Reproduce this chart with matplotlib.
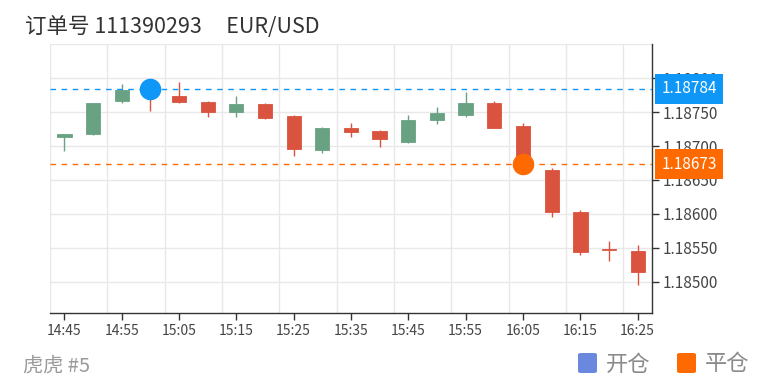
import matplotlib
matplotlib.use("Agg")
import matplotlib.pyplot as plt
from matplotlib.patches import FancyBboxPatch
from matplotlib.ticker import FormatStrFormatter

plt.rcParams['font.family'] = ['Noto Sans CJK SC', 'DejaVu Sans']

# 5分钟K线 14:45 - 16:25
times = ['14:45', '14:50', '14:55', '15:00', '15:05', '15:10', '15:15', '15:20',
         '15:25', '15:30', '15:35', '15:40', '15:45', '15:50', '15:55', '16:00',
         '16:05', '16:10', '16:15', '16:20', '16:25']
opens = [1.18714, 1.18717, 1.18766, 1.18785, 1.18774, 1.18765, 1.18750, 1.18762,
         1.18744, 1.18694, 1.18726, 1.18722, 1.18706, 1.18739, 1.18745, 1.18764,
         1.18729, 1.18664, 1.18603, 1.18548, 1.18546]
closes = [1.18718, 1.18764, 1.18783, 1.18777, 1.18765, 1.18750, 1.18762, 1.18741,
          1.18695, 1.18727, 1.18720, 1.18710, 1.18739, 1.18749, 1.18764, 1.18726,
          1.18665, 1.18603, 1.18544, 1.18547, 1.18515]
highs = [1.18718, 1.18764, 1.18791, 1.18790, 1.18795, 1.18766, 1.18773, 1.18764,
         1.18745, 1.18728, 1.18734, 1.18723, 1.18746, 1.18758, 1.18779, 1.18767,
         1.18734, 1.18668, 1.18606, 1.18560, 1.18554]
lows = [1.18692, 1.18716, 1.18764, 1.18752, 1.18763, 1.18742, 1.18743, 1.18740,
        1.18685, 1.18689, 1.18714, 1.18698, 1.18705, 1.18733, 1.18742, 1.18726,
        1.18660, 1.18595, 1.18540, 1.18530, 1.18495]

open_idx, open_price = 3, 1.18784    # 开仓
close_idx, close_price = 16, 1.18673  # 平仓

up_color = '#68a283'
down_color = '#d9533e'
blue = '#0f97f7'
orange = '#ff6a00'

fig = plt.figure(figsize=(7.75, 3.87), dpi=100)
ax = fig.add_axes([50 / 775, 1 - 313 / 387, 602 / 775, (313 - 43.5) / 387])

x = list(range(len(times)))
colors = [up_color if c >= o else down_color for o, c in zip(opens, closes)]
ax.vlines(x, lows, highs, colors=colors, linewidth=1, zorder=3)
ax.bar(x, [c - o for o, c in zip(opens, closes)], bottom=opens, width=0.5,
       color=colors, edgecolor=colors, linewidth=0.6, zorder=4)

# 开仓/平仓 价格线
ax.axhline(open_price, color=blue, linestyle=(0, (4, 4)), linewidth=1, zorder=5)
ax.axhline(close_price, color=orange, linestyle=(0, (4, 4)), linewidth=1, zorder=5)
ax.plot(open_idx, open_price, 'o', color=blue, markersize=14.5, zorder=6)
ax.plot(close_idx, close_price, 'o', color=orange, markersize=14.5, zorder=6)

ax.set_xlim(-0.5, len(times) - 0.5)
ax.set_ylim(1.18454, 1.18851)

# 网格: 纵线在类目边界, 每两个
for gx in [-0.5] + [i + 1.5 for i in range(0, len(times) - 1, 2)]:
    ax.axvline(gx, color='#e8e8e8', linewidth=1, zorder=1)
yt = [1.18500, 1.18550, 1.18600, 1.18650, 1.18700, 1.18750, 1.18800]
for gy in yt + [1.18851]:
    ax.axhline(gy, color='#e8e8e8', linewidth=1, zorder=1)

ax.set_xticks(x[::2])
ax.set_xticklabels(times[::2])
ax.set_yticks(yt)
ax.yaxis.set_major_formatter(FormatStrFormatter('%.5f'))
ax.yaxis.tick_right()
ax.tick_params(axis='x', length=5, width=1, color='#333333', labelsize=10,
               labelcolor='#444444', pad=3)
ax.tick_params(axis='y', length=5, width=1, color='#333333', labelsize=11,
               labelcolor='#444444', pad=3)

for s in ['left', 'top']:
    ax.spines[s].set_visible(False)
for s in ['right', 'bottom']:
    ax.spines[s].set_color('#333333')
    ax.spines[s].set_linewidth(1)

# 右侧价格标签 (盖住部分刻度文字, 同原图)
tr = ax.get_yaxis_transform()
for price, col in [(open_price, blue), (close_price, orange)]:
    ax.text(1.0155, price, '%.5f' % price, transform=tr, ha='left', va='center',
            color='white', fontsize=11, zorder=10, clip_on=False,
            bbox=dict(boxstyle='square,pad=0.42', facecolor=col, edgecolor='none'))

fig.text(25 / 775, 1 - 27 / 387, '订单号 111390293     EUR/USD', fontsize=15.5,
         color='#333333', va='center', ha='left')
fig.text(23 / 775, 1 - 366 / 387, '虎虎 #5', fontsize=14.5, color='#9a9a9a',
         va='center', ha='left')

# 图例
legend_items = [('开仓', '#6a88de', 578), ('平仓', orange, 677)]
for label, col, px in legend_items:
    fig.patches.append(FancyBboxPatch((px / 775, 1 - 373 / 387), 19 / 775, 20 / 387,
                                      boxstyle='round,pad=0,rounding_size=0.004',
                                      transform=fig.transFigure, facecolor=col,
                                      edgecolor='none'))
    fig.text((px + 28) / 775, 1 - 364 / 387, label, fontsize=16, color='#8a8a8a',
             va='center', ha='left')

fig.savefig('out.png', dpi=100)
